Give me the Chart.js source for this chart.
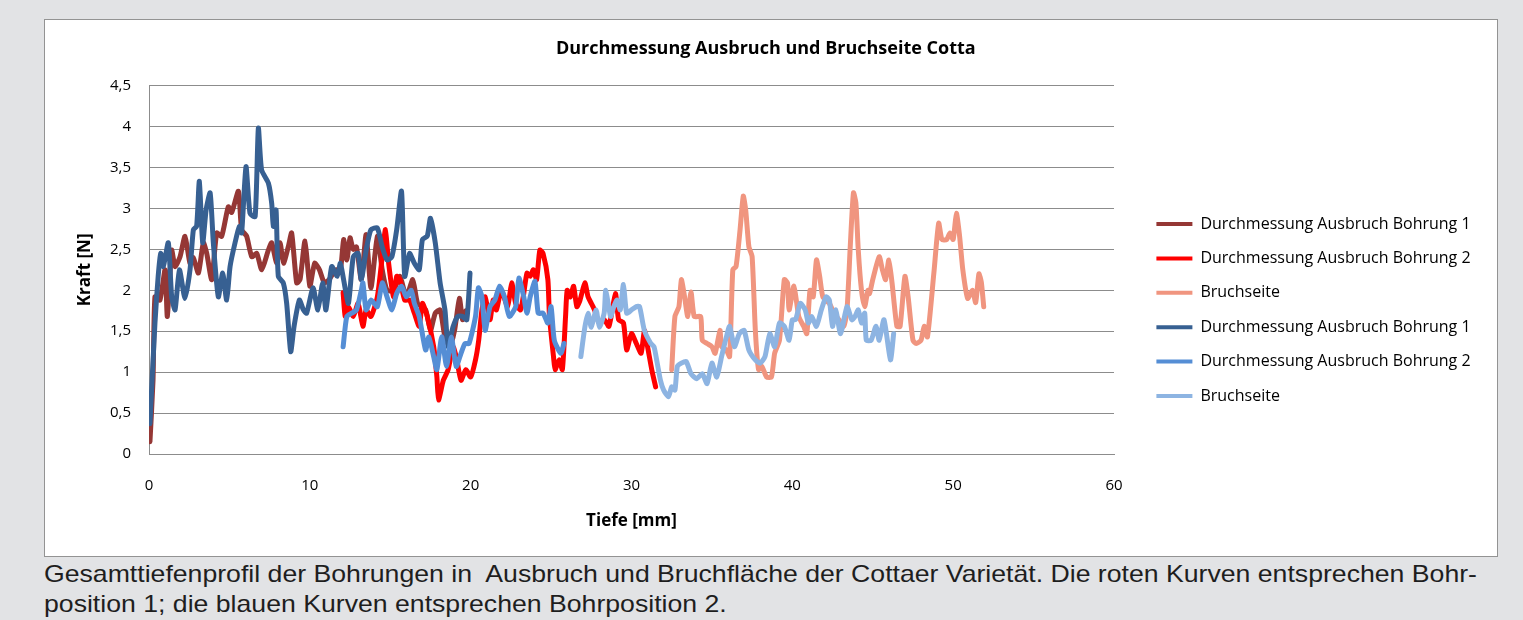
<!DOCTYPE html>
<html>
<head>
<meta charset="utf-8">
<script src="https://cdn.jsdelivr.net/npm/chart.js@4.4.1/dist/chart.umd.min.js"></script>
<style>
html,body{margin:0;padding:0;background:#e2e3e5;}
body{width:1523px;height:620px;position:relative;overflow:hidden;}
#box{position:absolute;left:44px;top:19px;width:1452px;height:536px;background:#fff;border:1px solid #939393;}
#box canvas{display:block;}
#caption{position:absolute;left:44px;top:559px;font-family:'Liberation Sans',Arial,sans-serif;font-size:24px;line-height:30px;color:#1e1e1e;white-space:nowrap;transform:scaleX(1.11);transform-origin:0 0;}
</style>
</head>
<body>
<div id="box"><canvas id="chart" width="1452" height="536"></canvas></div>
<div id="caption">Gesamttiefenprofil der Bohrungen in&nbsp; Ausbruch und Bruchfläche der Cottaer Varietät. Die roten Kurven entsprechen Bohr-<br>position 1; die blauen Kurven entsprechen Bohrposition 2.</div>
<script>
// tick labels
const xTicks=['0','10','20','30','40','50','60']
const yTicks=['0','0,5','1','1,5','2','2,5','3','3,5','4','4,5']

const seriesNames=['Durchmessung Ausbruch Bohrung 1','Durchmessung Ausbruch Bohrung 2','Bruchseite','Durchmessung Ausbruch Bohrung 1','Durchmessung Ausbruch Bohrung 2','Bruchseite']
const seriesColors=['#953735','#ff0000','#f0957f','#376092','#558ed5','#8db4e2']

// Bohrposition 1 (red)
const redB1X=[0.06,0.25,0.37,0.68,1.0,1.14,1.41,1.62,1.93,2.24,2.55,2.75,3.07,3.38,3.59,3.9,4.21,4.52,4.93,5.14,5.56,5.76,6.07,6.39,6.7,7.01,7.42,7.63,7.94,8.15,8.36,8.67,8.87,9.18,9.39,9.7,10.0,10.3,10.6,10.9,11.2,11.6,11.9,12.1,12.3,12.5,12.7,12.9,13.2,13.5,13.8,14.2,14.5,14.8,15.2,15.6,16.0,16.4,16.7,17.2,17.5,17.8,18.1,18.4,18.7,19.0,19.3,19.5,19.7]
const redB1Y=[0.15,0.9,1.92,1.88,2.25,1.68,2.49,2.29,2.41,2.66,2.33,2.4,2.21,2.58,2.45,2.13,2.7,2.66,3.02,2.95,3.21,2.74,2.66,2.41,2.45,2.25,2.49,2.58,2.33,2.58,2.33,2.54,2.7,2.09,2.13,2.6,2.05,2.33,2.25,2.09,2.13,2.25,2.25,2.62,2.37,2.64,2.5,2.53,2.13,2.68,2.03,2.66,2.25,2.0,2.0,2.17,1.92,2.13,1.84,1.76,1.51,1.72,1.76,1.43,1.31,1.51,1.9,1.64,1.75]

const redB2X=[12.07,12.2,12.4,12.7,13.0,13.3,13.5,13.8,14.2,14.5,14.7,14.9,15.2,15.4,15.6,15.9,16.2,16.5,16.8,17.0,17.3,17.7,17.9,18.0,18.3,18.6,18.9,19.1,19.4,19.7,20.0,20.3,20.5,20.7,20.9,21.2,21.4,21.6,21.9,22.3,22.55,22.8,23.1,23.3,23.5,23.7,23.9,24.1,24.3,24.5,24.8,24.9,25.15,25.25,25.5,25.7,25.9,26.0,26.2,26.4,26.6,26.8,27.1,27.3,27.5,27.7,28.0,28.3,28.6,29.0,29.2,29.5,29.7,30.0,30.3,30.6,30.8,31.0,31.26,31.5]
const redB2Y=[1.97,1.68,1.8,1.68,1.84,1.56,1.76,1.68,1.92,2.41,2.74,2.33,1.92,2.17,2.13,1.88,1.88,1.72,1.56,1.84,1.68,1.31,0.94,0.66,0.9,1.03,1.31,1.19,0.9,1.03,0.94,1.15,1.39,1.76,1.92,1.64,1.88,1.76,2.0,1.8,2.09,1.84,1.76,1.96,2.21,2.17,2.25,2.13,2.49,2.45,2.13,1.68,1.19,1.03,1.15,1.03,1.68,2.0,1.92,2.05,1.8,1.88,2.09,1.92,1.84,1.76,1.6,1.64,1.56,1.96,1.64,1.6,1.27,1.47,1.35,1.23,1.51,1.31,1.03,0.82]

const redBsX=[32.5,32.7,32.95,33.1,33.3,33.5,33.7,33.9,34.3,34.4,34.7,35.0,35.2,35.5,35.6,35.9,36.1,36.3,36.5,36.75,36.95,37.1,37.3,37.5,37.7,37.9,38.1,38.4,38.7,38.9,39.2,39.5,39.7,39.8,40.1,40.4,40.7,40.9,41.1,41.3,41.5,41.7,41.9,42.3,42.6,42.9,43.2,43.4,43.6,43.8,43.95,44.1,44.3,44.5,44.7,44.8,45.0,45.4,45.6,45.8,46.0,46.2,46.5,46.7,47.0,47.2,47.5,47.7,48.0,48.2,48.4,48.8,49.1,49.3,49.6,49.8,50.0,50.2,50.4,50.6,50.9,51.2,51.4,51.6,51.75,51.9]
const redBsY=[1.03,1.68,1.8,2.13,1.92,1.68,1.98,1.68,1.68,1.39,1.35,1.31,1.23,1.51,1.31,1.27,1.19,2.25,2.29,2.74,3.15,2.98,2.53,2.41,1.51,1.03,1.07,0.94,0.94,1.23,1.39,2.13,2.09,1.76,2.05,1.68,1.56,1.47,2.0,1.92,2.37,2.17,1.92,1.84,1.72,1.64,1.56,1.76,2.53,3.19,3.07,2.49,2.0,1.8,2.0,1.96,2.13,2.41,2.25,2.13,2.37,2.09,1.56,1.56,2.17,1.92,1.39,1.35,1.39,1.56,1.43,2.21,2.82,2.62,2.62,2.7,2.62,2.94,2.66,2.25,1.9,2.0,1.85,2.2,2.1,1.8]

// Bohrposition 2 (blue)
const blueB1X=[0.06,0.37,0.57,0.73,0.89,1.2,1.41,1.62,1.89,2.24,2.55,2.76,2.96,3.13,3.34,3.55,3.8,4.0,4.31,4.58,4.83,5.04,5.35,5.62,5.76,6.03,6.28,6.6,6.8,7.0,7.42,7.63,7.73,7.9,8.04,8.35,8.56,8.81,9.02,9.35,9.6,9.8,10.2,10.5,10.8,11.0,11.36,11.7,11.9,12.1,12.4,12.7,13.0,13.2,13.5,13.8,14.2,14.5,14.8,15.1,15.4,15.7,15.9,16.2,16.5,16.8,17.0,17.3,17.5,17.8,18.1,18.4,18.6,18.9,19.2,19.5,19.76,19.96]
const blueB1Y=[0.37,1.6,2.17,2.45,2.29,2.58,1.92,1.76,2.25,1.9,2.25,2.74,2.78,3.33,2.58,2.98,3.19,2.58,1.92,2.21,1.88,2.29,2.58,2.78,2.7,3.51,2.94,2.9,3.98,3.47,3.31,3.06,2.78,2.98,2.17,2.09,1.84,1.25,1.56,1.88,1.76,1.72,2.03,1.76,2.09,1.76,2.29,2.17,2.33,2.13,1.84,2.41,2.45,2.13,2.49,2.74,2.76,2.53,2.37,2.41,2.74,3.21,2.17,2.45,2.33,2.25,2.62,2.66,2.88,2.58,2.09,1.76,1.31,1.55,1.68,1.68,1.64,2.21]

const blueB2X=[12.07,12.3,12.6,12.9,13.2,13.3,13.5,13.8,14.2,14.5,14.8,15.1,15.4,15.7,16.0,16.3,16.5,16.8,17.2,17.4,17.7,17.9,18.2,18.5,18.8,19.1,19.4,19.65,19.9,20.3,20.48,20.7,20.9,21.2,21.5,21.8,22.1,22.4,22.8,23.0,23.3,23.5,23.7,24.0,24.2,24.5,24.8,25.0,25.2,25.6,25.8]
const blueB2Y=[1.31,1.68,1.72,1.76,2.0,2.09,1.76,1.88,1.8,2.09,1.92,1.76,1.96,2.05,1.92,2.0,1.84,1.68,1.27,1.43,1.19,1.03,1.43,1.07,1.43,1.07,1.23,1.35,1.35,1.68,2.03,1.92,1.51,1.8,1.88,2.05,1.92,1.68,1.8,2.15,1.92,1.72,1.92,2.11,1.72,1.72,1.6,1.8,1.39,1.23,1.35]

const blueBsX=[26.85,27.1,27.3,27.5,27.8,28.0,28.3,28.4,28.7,28.9,29.1,29.3,29.5,29.7,30.0,30.3,30.5,30.8,31.2,31.4,31.6,31.8,32.0,32.3,32.5,32.7,32.85,33.1,33.4,33.7,34.05,34.4,34.7,35.0,35.3,35.6,35.9,36.1,36.4,36.7,37.0,37.3,37.7,38.0,38.3,38.6,38.9,39.2,39.5,39.8,40.0,40.2,40.5,40.8,41.0,41.2,41.5,41.8,42.1,42.3,42.5,42.7,43.0,43.4,43.7,43.9,44.1,44.3,44.5,44.6,44.9,45.2,45.4,45.7,46.1,46.3]
const blueBsY=[1.19,1.55,1.72,1.55,1.76,1.55,1.72,2.0,1.68,1.8,1.88,1.76,2.07,1.72,1.76,1.8,1.8,1.51,1.35,1.31,1.11,0.9,0.78,0.7,0.82,0.78,1.07,1.11,1.13,0.98,0.92,0.98,0.86,1.11,0.94,1.19,1.43,1.56,1.31,1.47,1.51,1.27,1.15,1.11,1.19,1.47,1.31,1.6,1.56,1.39,1.64,1.64,1.84,1.76,1.6,1.68,1.56,1.76,1.92,1.88,1.56,1.76,1.47,1.8,1.64,1.68,1.76,1.6,1.72,1.39,1.39,1.56,1.39,1.64,1.15,1.47]

const seriesX=[redB1X,redB2X,redBsX,blueB1X,blueB2X,blueBsX]
const seriesY=[redB1Y,redB2Y,redBsY,blueB1Y,blueB2Y,blueBsY]

const fontFamily="'Open Sans', sans-serif"
Chart.defaults.font.family=fontFamily
Chart.defaults.color='#000'

const datasets=seriesNames.map((name,i)=>({
label:name,
data:seriesX[i].map((x,j)=>({x:x,y:seriesY[i][j]})),
borderColor:seriesColors[i],
backgroundColor:seriesColors[i],
order:5-i
}))

// legend sizing: plot area should end at x=1069 inside the canvas
const legendFont=16
const legendPad=18.4
const legendLine=36
const legendGap=24
const mctx=document.createElement('canvas').getContext('2d')
mctx.font=legendFont+"px "+fontFamily
const legendTextW=Math.max(...seriesNames.map(n=>mctx.measureText(n).width))
const legendW=legendPad+legendLine+legendFont/2+legendTextW+10
const padRight=Math.max(0,1452-1069-legendW)

// push the legend a bit away from the plot
const legendShift={
id:'legendShift',
afterLayout(chart){
chart.legend.left+=legendGap
chart.legend.right+=legendGap
}
}

const gridGrey='#8c8c8c'

new Chart(document.getElementById('chart').getContext('2d'),{
type:'line',
data:{datasets:datasets},
plugins:[legendShift],
options:{
responsive:false,
animation:false,
layout:{padding:{left:30,right:padRight,top:0,bottom:20}},
elements:{
point:{radius:0,hoverRadius:0,borderWidth:4},
line:{borderWidth:5,tension:0.2,borderCapStyle:'round',borderJoinStyle:'round'}
},
plugins:{
title:{display:true,text:'Durchmessung Ausbruch und Bruchseite Cotta',color:'#000',font:{size:18,weight:'bold'},padding:{top:18,bottom:26}},
legend:{
position:'right',
reverse:true,
title:{display:true,text:'',font:{size:10},padding:{top:0,bottom:52}},
labels:{usePointStyle:true,pointStyle:'line',pointStyleWidth:legendLine,padding:legendPad,color:'#000',font:{size:legendFont}}
},
tooltip:{enabled:false}
},
scales:{
x:{
type:'linear',min:0,max:60,
ticks:{stepSize:10,padding:23,font:{size:15},callback:(v,i)=>xTicks[i]},
grid:{display:false,drawTicks:false},
border:{display:true,color:gridGrey},
title:{display:true,text:'Tiefe [mm]',font:{size:17,weight:'bold'},padding:{top:0,bottom:5}},
afterFit:s=>{s.height=82}
},
y:{
min:0,max:4.5,
ticks:{stepSize:0.5,padding:18,font:{size:15},callback:(v,i)=>yTicks[i]},
grid:{color:gridGrey,drawTicks:false},
border:{color:gridGrey},
title:{display:true,text:'Kraft [N]',font:{size:17,weight:'bold'},padding:{top:0,bottom:0}},
afterFit:s=>{s.width=74}
}
}
}
})
</script>
</body>
</html>
